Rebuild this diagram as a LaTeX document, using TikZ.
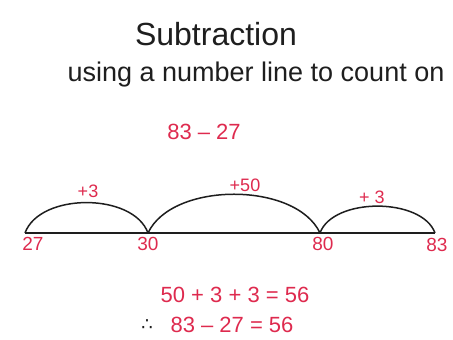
\documentclass[tikz,border=0pt]{standalone}
\usepackage{fontspec}
\setmainfont{Liberation Sans}
\newfontfamily\symfont{DejaVu Sans}
\usetikzlibrary{positioning}
\definecolor{redpen}{RGB}{222,42,78}
\definecolor{ink}{RGB}{30,30,30}

\begin{document}
\begin{tikzpicture}[
    x=1pt, y=1pt,
    jump/.style={draw=ink, line width=1.5pt},
    num/.style={text=redpen, inner sep=1pt, font=\fontsize{19}{19}\selectfont},
    hop/.style={text=redpen, inner sep=1pt, font=\fontsize{18}{18}\selectfont},
    sum/.style={text=redpen, inner sep=1pt, font=\fontsize{22}{22}\selectfont}
  ]
  \useasboundingbox (0,0) rectangle (453,340);

  % headings
  \node[text=ink, font=\fontsize{32}{32}\selectfont] (title) at (216,306) {Subtraction};
  \node[text=ink, font=\fontsize{27}{27}\selectfont] (sub) at (256,265) {using a number line to count on};
  \node[sum] (task) at (204,208) {83 – 27};

  % number line
  \coordinate (p27) at (25,107);
  \coordinate (p30) at (148,107);
  \coordinate (p80) at (320,107);
  \coordinate (p83) at (435,107);
  \draw[jump] (p27) -- (p83);

  \node[num, below=3pt of p27, xshift=8pt] (n27) {27};
  \node[num, below=3pt of p30] (n30) {30};
  \node[num, below=3pt of p80, xshift=3pt] (n80) {80};
  \node[num, below=4pt of p83, xshift=2pt] (n83) {83};

  % jumps
  \draw[jump] (p27) to[out=70, in=110, looseness=0.9] (p30);
  \draw[jump] (p30) to[out=65, in=115, looseness=0.85] (p80);
  \draw[jump] (p80) to[out=70, in=110, looseness=0.85] (p83);
  \node[hop] (h1) at (88,149) {+3};
  \node[hop] (h2) at (245,155) {+50};
  \node[hop] (h3) at (372,143) {+ 3};

  % answer
  \node[sum] (adds) at (235,45) {50 + 3 + 3 = 56};
  \node[text=ink, font=\symfont\fontsize{18}{18}\selectfont] (so) at (147,15) {∴};
  \node[sum] (ans) at (232,15) {83 – 27 = 56};
\end{tikzpicture}
\end{document}
